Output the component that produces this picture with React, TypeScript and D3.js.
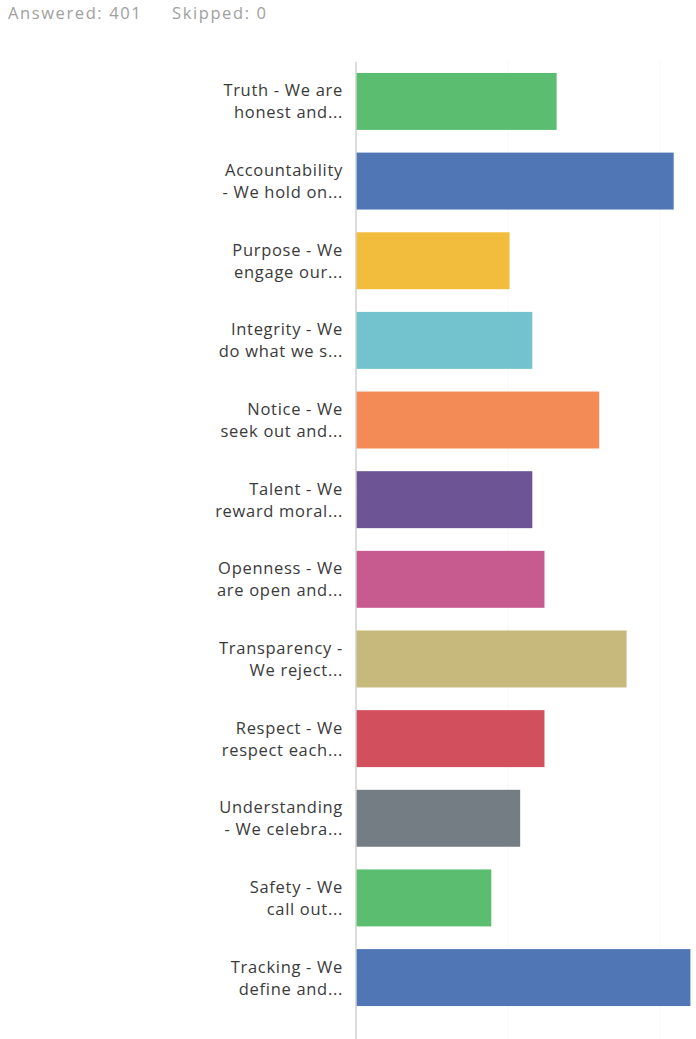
import React from "react";
import * as d3 from "d3";

const labelLine1 = [
  "Truth - We are",
  "Accountability",
  "Purpose - We",
  "Integrity - We",
  "Notice - We",
  "Talent - We",
  "Openness - We",
  "Transparency -",
  "Respect - We",
  "Understanding",
  "Safety - We",
  "Tracking - We",
];
const labelLine2 = [
  "honest and...",
  "- We hold on...",
  "engage our...",
  "do what we s...",
  "seek out and...",
  "reward moral...",
  "are open and...",
  "We reject...",
  "respect each...",
  "- We celebra...",
  "call out...",
  "define and...",
];
const values = [13.2, 20.9, 10.1, 11.6, 16.0, 11.6, 12.4, 17.8, 12.4, 10.8, 8.9, 22.0];
const colors = [
  "#5bbd70",
  "#5076b5",
  "#f2bd3c",
  "#72c3cd",
  "#f28b55",
  "#6c5495",
  "#c75a8f",
  "#c6b97b",
  "#d24f5e",
  "#757d84",
  "#5bbd70",
  "#5076b5",
];
const gridTicks = [10, 20];

export default function App() {
  const W = 696;
  const H = 1039;
  const x0 = 356;
  const x = d3.scaleLinear().domain([0, 30]).range([x0, x0 + 456]);
  const keys = labelLine1.map((_, i) => String(i));
  const y = d3
    .scaleBand<string>()
    .domain(keys)
    .range([61.6, 1017.4])
    .paddingInner(0.285)
    .paddingOuter(0.1425);
  const font = "'Open Sans', 'Noto Sans', sans-serif";
  return (
    <svg
      width={W}
      height={H}
      style={{ position: "absolute", left: 0, top: 0, background: "#fff" }}
    >
      <text x={8} y={19} fontFamily={font} fontSize={16.5} letterSpacing={1.6} fill="#a0a0a0">
        Answered: 401
      </text>
      <text x={172} y={19} fontFamily={font} fontSize={16.5} letterSpacing={1.6} fill="#a0a0a0">
        Skipped: 0
      </text>
      {gridTicks.map((t) => (
        <line
          key={t}
          x1={x(t)}
          x2={x(t)}
          y1={62}
          y2={H}
          stroke="#f8f8f8"
          strokeWidth={1}
        />
      ))}
      {values.map((v, i) => {
        const yy = y(String(i))!;
        const cy = yy + y.bandwidth() / 2;
        return (
          <g key={i}>
            <rect
              x={x(0)}
              y={yy}
              width={x(v) - x(0)}
              height={y.bandwidth()}
              fill={colors[i]}
            />
            <text
              x={343}
              y={cy - 5}
              textAnchor="end"
              fontFamily={font}
              fontSize={16.5}
              letterSpacing={0.7}
              fill="#3a3a3a"
            >
              {labelLine1[i]}
            </text>
            <text
              x={343}
              y={cy + 17}
              textAnchor="end"
              fontFamily={font}
              fontSize={16.5}
              letterSpacing={0.7}
              fill="#3a3a3a"
            >
              {labelLine2[i]}
            </text>
          </g>
        );
      })}
      <line x1={x0} x2={x0} y1={62} y2={H} stroke="#d0d0d0" strokeWidth={1.5} />
    </svg>
  );
}
